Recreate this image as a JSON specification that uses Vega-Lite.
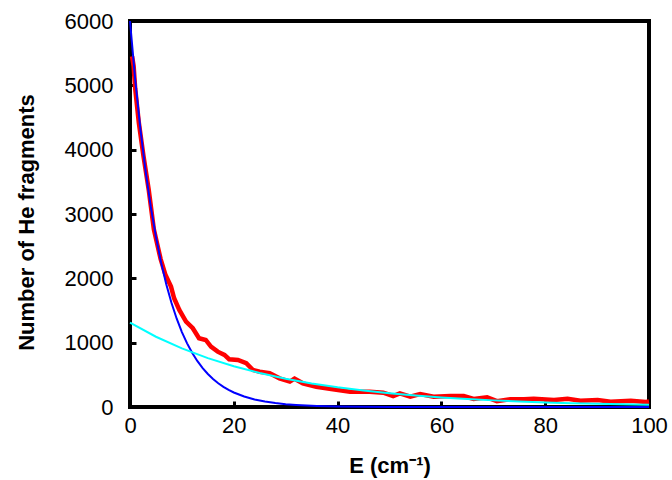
{
  "$schema": "https://vega.github.io/schema/vega-lite/v6.json",
  "width": 519,
  "height": 386,
  "autosize": {"type": "none"},
  "padding": {"left": 130, "top": 21, "right": 23, "bottom": 73},
  "background": "white",
  "config": {"view": {"stroke": "#000000", "strokeWidth": 4}},
  "datasets": {
    "veff": [
      {"E": 0.4, "N": 5450, "series": "V effective"},
      {"E": 0.7, "N": 5300, "series": "V effective"},
      {"E": 1.0, "N": 4950, "series": "V effective"},
      {"E": 1.7, "N": 4420, "series": "V effective"},
      {"E": 2.6, "N": 3900, "series": "V effective"},
      {"E": 3.6, "N": 3380, "series": "V effective"},
      {"E": 4.6, "N": 2760, "series": "V effective"},
      {"E": 5.9, "N": 2300, "series": "V effective"},
      {"E": 6.8, "N": 2060, "series": "V effective"},
      {"E": 7.9, "N": 1871, "series": "V effective"},
      {"E": 8.5, "N": 1690, "series": "V effective"},
      {"E": 9.5, "N": 1508, "series": "V effective"},
      {"E": 10.8, "N": 1327, "series": "V effective"},
      {"E": 12.1, "N": 1224, "series": "V effective"},
      {"E": 13.3, "N": 1068, "series": "V effective"},
      {"E": 14.6, "N": 1042, "series": "V effective"},
      {"E": 15.6, "N": 938, "series": "V effective"},
      {"E": 16.9, "N": 860, "series": "V effective"},
      {"E": 18.2, "N": 809, "series": "V effective"},
      {"E": 19.1, "N": 742, "series": "V effective"},
      {"E": 20.8, "N": 731, "series": "V effective"},
      {"E": 22.4, "N": 680, "series": "V effective"},
      {"E": 23.7, "N": 575, "series": "V effective"},
      {"E": 25.0, "N": 549, "series": "V effective"},
      {"E": 26.9, "N": 524, "series": "V effective"},
      {"E": 28.8, "N": 446, "series": "V effective"},
      {"E": 30.8, "N": 394, "series": "V effective"},
      {"E": 31.7, "N": 440, "series": "V effective"},
      {"E": 33.3, "N": 368, "series": "V effective"},
      {"E": 35.9, "N": 316, "series": "V effective"},
      {"E": 39.1, "N": 275, "series": "V effective"},
      {"E": 42.4, "N": 238, "series": "V effective"},
      {"E": 46.2, "N": 238, "series": "V effective"},
      {"E": 48.8, "N": 222, "series": "V effective"},
      {"E": 50.7, "N": 171, "series": "V effective"},
      {"E": 52.0, "N": 213, "series": "V effective"},
      {"E": 54.0, "N": 160, "series": "V effective"},
      {"E": 55.9, "N": 200, "series": "V effective"},
      {"E": 58.5, "N": 160, "series": "V effective"},
      {"E": 61.7, "N": 171, "series": "V effective"},
      {"E": 64.3, "N": 171, "series": "V effective"},
      {"E": 66.2, "N": 125, "series": "V effective"},
      {"E": 68.8, "N": 151, "series": "V effective"},
      {"E": 70.7, "N": 90, "series": "V effective"},
      {"E": 73.3, "N": 120, "series": "V effective"},
      {"E": 75.9, "N": 120, "series": "V effective"},
      {"E": 77.8, "N": 129, "series": "V effective"},
      {"E": 81.7, "N": 109, "series": "V effective"},
      {"E": 84.3, "N": 129, "series": "V effective"},
      {"E": 86.8, "N": 98, "series": "V effective"},
      {"E": 90.1, "N": 109, "series": "V effective"},
      {"E": 92.6, "N": 82, "series": "V effective"},
      {"E": 96.5, "N": 98, "series": "V effective"},
      {"E": 99.4, "N": 78, "series": "V effective"},
      {"E": 100, "N": 85, "series": "V effective"}
    ],
    "t65": [
      {"E": 0, "N": 6000, "series": "T=6.5K"},
      {"E": 1, "N": 5093, "series": "T=6.5K"},
      {"E": 2, "N": 4323, "series": "T=6.5K"},
      {"E": 3, "N": 3669, "series": "T=6.5K"},
      {"E": 4, "N": 3114, "series": "T=6.5K"},
      {"E": 5, "N": 2644, "series": "T=6.5K"},
      {"E": 6, "N": 2244, "series": "T=6.5K"},
      {"E": 7, "N": 1905, "series": "T=6.5K"},
      {"E": 8, "N": 1617, "series": "T=6.5K"},
      {"E": 9, "N": 1372, "series": "T=6.5K"},
      {"E": 10, "N": 1165, "series": "T=6.5K"},
      {"E": 11, "N": 989, "series": "T=6.5K"},
      {"E": 12, "N": 839, "series": "T=6.5K"},
      {"E": 13, "N": 712, "series": "T=6.5K"},
      {"E": 14, "N": 605, "series": "T=6.5K"},
      {"E": 15, "N": 513, "series": "T=6.5K"},
      {"E": 16, "N": 436, "series": "T=6.5K"},
      {"E": 17, "N": 370, "series": "T=6.5K"},
      {"E": 18, "N": 314, "series": "T=6.5K"},
      {"E": 19, "N": 266, "series": "T=6.5K"},
      {"E": 20, "N": 226, "series": "T=6.5K"},
      {"E": 22, "N": 163, "series": "T=6.5K"},
      {"E": 24, "N": 117, "series": "T=6.5K"},
      {"E": 26, "N": 85, "series": "T=6.5K"},
      {"E": 28, "N": 61, "series": "T=6.5K"},
      {"E": 30, "N": 44, "series": "T=6.5K"},
      {"E": 32, "N": 32, "series": "T=6.5K"},
      {"E": 34, "N": 23, "series": "T=6.5K"},
      {"E": 36, "N": 16, "series": "T=6.5K"},
      {"E": 38, "N": 12, "series": "T=6.5K"},
      {"E": 40, "N": 8.5, "series": "T=6.5K"},
      {"E": 45, "N": 3.7, "series": "T=6.5K"},
      {"E": 50, "N": 1.6, "series": "T=6.5K"},
      {"E": 60, "N": 0.3, "series": "T=6.5K"},
      {"E": 70, "N": 0.1, "series": "T=6.5K"},
      {"E": 80, "N": 0, "series": "T=6.5K"},
      {"E": 90, "N": 0, "series": "T=6.5K"},
      {"E": 100, "N": 0, "series": "T=6.5K"}
    ],
    "t28": [
      {"E": 0, "N": 1310, "series": "T=28K"},
      {"E": 5, "N": 1092, "series": "T=28K"},
      {"E": 10, "N": 911, "series": "T=28K"},
      {"E": 15, "N": 759, "series": "T=28K"},
      {"E": 20, "N": 633, "series": "T=28K"},
      {"E": 25, "N": 528, "series": "T=28K"},
      {"E": 30, "N": 440, "series": "T=28K"},
      {"E": 35, "N": 367, "series": "T=28K"},
      {"E": 40, "N": 306, "series": "T=28K"},
      {"E": 45, "N": 255, "series": "T=28K"},
      {"E": 50, "N": 213, "series": "T=28K"},
      {"E": 55, "N": 177, "series": "T=28K"},
      {"E": 60, "N": 148, "series": "T=28K"},
      {"E": 65, "N": 123, "series": "T=28K"},
      {"E": 70, "N": 103, "series": "T=28K"},
      {"E": 75, "N": 86, "series": "T=28K"},
      {"E": 80, "N": 71, "series": "T=28K"},
      {"E": 85, "N": 60, "series": "T=28K"},
      {"E": 90, "N": 50, "series": "T=28K"},
      {"E": 95, "N": 41, "series": "T=28K"},
      {"E": 100, "N": 35, "series": "T=28K"}
    ]
  },
  "layer": [
    {
      "data": {"name": "veff"},
      "mark": {"type": "line", "strokeWidth": 4.5, "stroke": "#ff0000"},
      "encoding": {
        "x": {
          "field": "E", "type": "quantitative",
          "scale": {"domain": [0, 100], "nice": false, "zero": false},
          "axis": {"values": [0, 20, 40, 60, 80, 100], "title": "E (cm⁻¹)", "grid": false, "ticks": true, "tickSize": 6, "tickWidth": 3, "tickColor": "#000000", "offset": -6, "domain": false, "labelFlush": false, "labelOverlap": false, "labelFont": "Liberation Sans", "labelFontSize": 22, "labelColor": "#000000", "labelPadding": 8, "titleFont": "Liberation Sans", "titleFontSize": 22, "titleFontWeight": "bold", "titleColor": "#000000", "titleBaseline": "alphabetic", "titleY": 71}
        },
        "y": {
          "field": "N", "type": "quantitative",
          "scale": {"domain": [0, 6000], "nice": false},
          "axis": {"values": [0, 1000, 2000, 3000, 4000, 5000, 6000], "format": "d", "title": "Number of He fragments", "grid": false, "ticks": true, "tickSize": 6, "tickWidth": 3, "tickColor": "#000000", "offset": -6, "domain": false, "labelFlush": false, "labelOverlap": false, "labelFont": "Liberation Sans", "labelFontSize": 22, "labelColor": "#000000", "labelPadding": 17, "titleFont": "Liberation Sans", "titleFontSize": 22, "titleFontWeight": "bold", "titleColor": "#000000", "titleBaseline": "alphabetic", "titleX": -103, "titleY": 201}
        }
      }
    },
    {
      "data": {"name": "t65"},
      "mark": {"type": "line", "strokeWidth": 2, "stroke": "#0000ff"},
      "encoding": {
        "x": {"field": "E", "type": "quantitative"},
        "y": {"field": "N", "type": "quantitative"}
      }
    },
    {
      "data": {"name": "t28"},
      "mark": {"type": "line", "strokeWidth": 2, "stroke": "#00ffff"},
      "encoding": {
        "x": {"field": "E", "type": "quantitative"},
        "y": {"field": "N", "type": "quantitative"}
      }
    }
  ]
}
